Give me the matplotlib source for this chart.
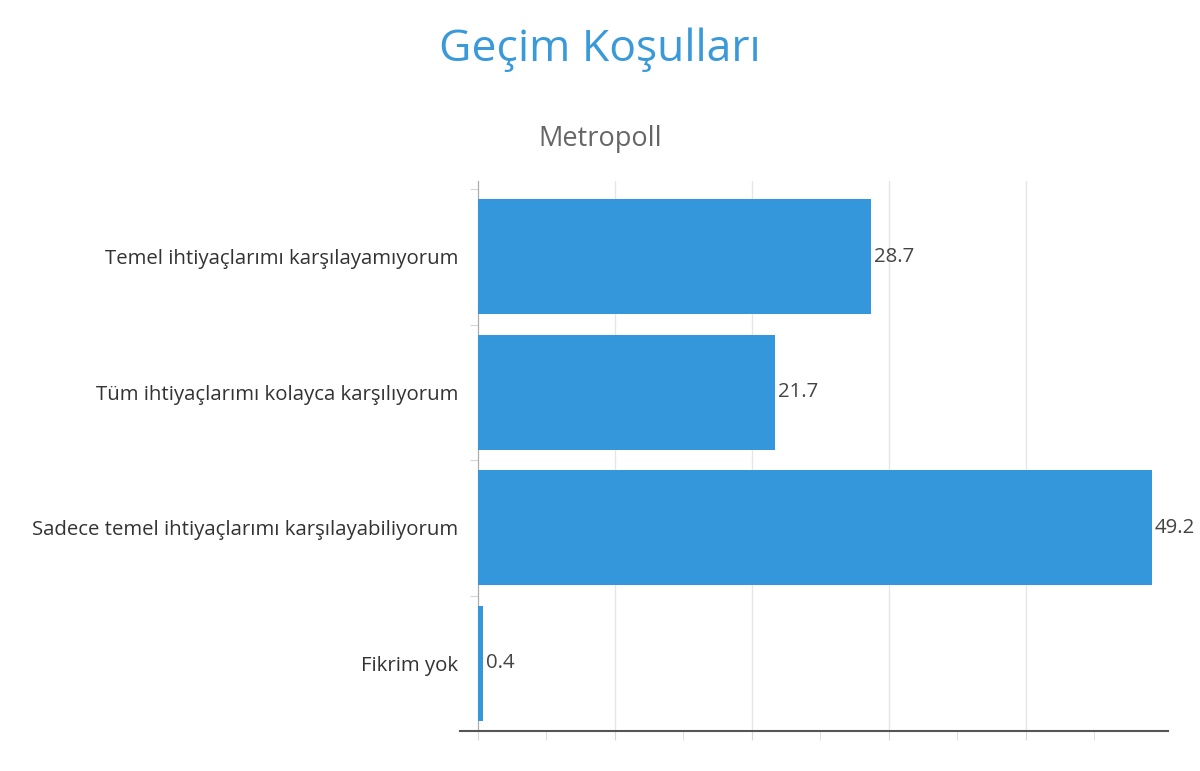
import matplotlib.pyplot as plt
from matplotlib.ticker import FixedLocator

plt.rcParams['font.family'] = ['Open Sans', 'DejaVu Sans']

categories = ['Temel ihtiyaçlarımı karşılayamıyorum',
              'Tüm ihtiyaçlarımı kolayca karşılıyorum',
              'Sadece temel ihtiyaçlarımı karşılayabiliyorum',
              'Fikrim yok']
values = [28.7, 21.7, 49.2, 0.4]
major_x = [0, 10, 20, 30, 40]
minor_x = [5, 15, 25, 35, 45]

bar_color = '#3597db'

fig = plt.figure(figsize=(12, 7.71), dpi=100)
ax = fig.add_axes([460 / 1200, 1 - 731 / 771, (1168 - 460) / 1200, (731 - 181) / 771])

# spines first: moving a spine resets the tick setup
for side in ['top', 'right']:
    ax.spines[side].set_visible(False)
ax.spines['left'].set_position(('data', 0))
ax.spines['left'].set_color('#aaaaaa')
ax.spines['bottom'].set_color('#555555')
ax.spines['bottom'].set_linewidth(1.5)

ypos = list(range(len(categories)))
bars = ax.barh(ypos, values, height=0.85, color=bar_color, zorder=3)

ax.set_xlim(-1.3, 50.4)
ax.set_ylim(3.5, -0.56)

ax.set_yticks(ypos)
ax.set_yticklabels(categories)
ax.yaxis.set_minor_locator(FixedLocator([-0.5, 0.5, 1.5, 2.5, 3.5]))
ax.tick_params(axis='y', which='major', length=0, pad=14, labelsize=14.7, labelcolor='#333333')
ax.tick_params(axis='y', which='minor', length=6, color='#cccccc')
for lbl in ax.get_yticklabels():
    lbl.set_y(lbl.get_position()[1])

ax.xaxis.set_major_locator(FixedLocator(major_x))
ax.xaxis.set_minor_locator(FixedLocator(minor_x))
ax.tick_params(axis='x', which='both', length=6.5, color='#d8d8d8', labelbottom=False)
ax.grid(axis='x', which='major', color='#e6e6e6', linewidth=1, zorder=0)

ax.bar_label(bars, labels=[str(v) for v in values], padding=2, fontsize=14.7, color='#444444')

fig.text(0.5, 1 - 50 / 771, 'Geçim Koşulları', ha='center', va='center',
         fontsize=32, color='#3a9ad9')
fig.text(0.5, 1 - 139 / 771, 'Metropoll', ha='center', va='center',
         fontsize=19.5, color='#666666')

fig.savefig('out.png', dpi=100)
